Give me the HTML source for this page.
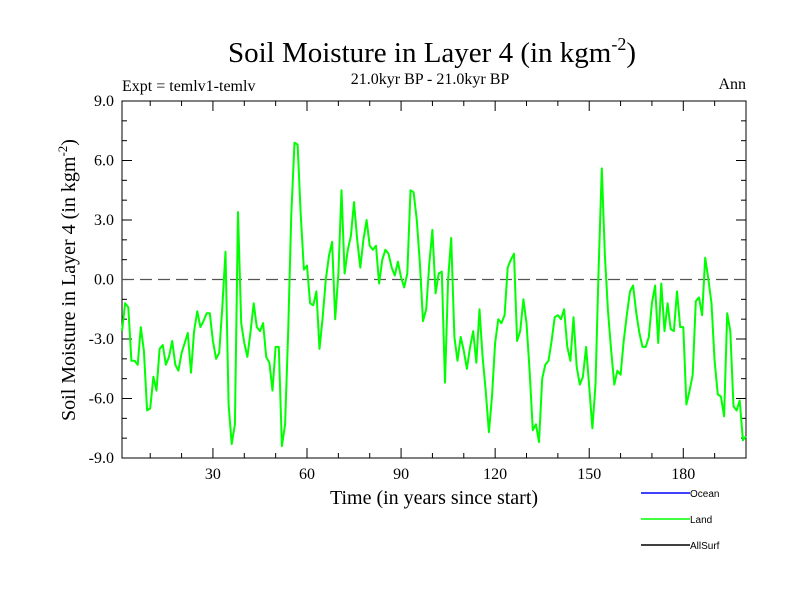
<!DOCTYPE html>
<html><head><meta charset="utf-8"><style>
body{margin:0;background:#fff}
svg text{font-family:"Liberation Serif",serif}
</style></head><body>
<svg id="chart" width="800" height="600" viewBox="0 0 800 600" xmlns="http://www.w3.org/2000/svg">
<text x="432" y="62" font-size="29" text-anchor="middle">Soil Moisture in Layer 4 (in kgm<tspan font-size="18" dy="-12">-2</tspan><tspan dy="12">)</tspan></text>
<text x="122" y="91" font-size="16">Expt = temlv1-temlv</text>
<text x="430" y="84" font-size="16" text-anchor="middle">21.0kyr BP - 21.0kyr BP</text>
<text x="746" y="89" font-size="16" text-anchor="end">Ann</text>
<text transform="translate(75,280) rotate(-90)" font-size="20" text-anchor="middle">Soil Moisture in Layer 4 (in kgm<tspan font-size="13" dy="-8">-2</tspan><tspan dy="8">)</tspan></text>
<text x="434" y="504" font-size="20" text-anchor="middle">Time (in years since start)</text>
<g id="axes"></g>
<g id="series"></g>
<g id="legend"></g>
</svg>
<script>
const years=[];for(let i=1;i<=200;i++)years.push(i);
const landValues=[-2.6,-1.2,-1.4,-4.1,-4.1,-4.3,-2.4,-3.6,-6.6,-6.5,-4.9,-5.6,-3.5,-3.3,-4.3,-3.9,-3.1,-4.3,-4.6,-3.7,-3.2,-2.7,-4.7,-2.6,-1.6,-2.4,-2.1,-1.7,-1.7,-3.1,-4.0,-3.7,-1.4,1.4,-6.3,-8.3,-7.3,3.4,-2.2,-3.2,-3.9,-2.6,-1.2,-2.4,-2.6,-2.2,-3.9,-4.2,-5.6,-3.4,-3.4,-8.4,-7.3,-2.6,3.3,6.9,6.8,3.3,0.5,0.7,-1.2,-1.3,-0.6,-3.5,-1.9,0,1.2,1.9,-2.0,0.3,4.5,0.3,1.5,2.2,3.9,2.0,0.6,2.0,3.0,1.7,1.5,1.7,-0.2,1.0,1.5,1.3,0.6,0.2,0.9,0.1,-0.4,0.3,4.5,4.4,3.0,0.8,-2.1,-1.5,0.8,2.5,-0.7,0.3,0.4,-5.2,0,2.1,-2.9,-4.1,-2.9,-3.6,-4.5,-3.4,-2.6,-4.2,-1.5,-3.9,-5.6,-7.7,-5.9,-3.2,-2.0,-2.2,-1.8,0.6,1.0,1.3,-3.1,-2.6,-1.0,-2.2,-4.6,-7.6,-7.3,-8.2,-5.0,-4.3,-4.1,-3.1,-1.9,-1.8,-2.0,-1.5,-3.4,-4.1,-1.9,-4.4,-5.3,-4.9,-3.4,-5.4,-7.5,-5.3,0.5,5.6,1.2,-1.6,-3.6,-5.3,-4.6,-4.8,-3.1,-1.8,-0.6,-0.3,-1.7,-2.7,-3.4,-3.4,-2.9,-1.2,-0.3,-3.2,-0.2,-2.6,-1.2,-2.5,-2.6,-0.6,-2.4,-2.4,-6.3,-5.6,-4.8,-1.1,-0.9,-1.8,1.1,0,-1.2,-4.1,-5.8,-5.9,-6.9,-1.7,-2.6,-6.4,-6.6,-6.1,-8.1,-7.9];
const yTickValues=[-9,-6,-3,0,3,6,9];
const yTickLabels=["-9.0","-6.0","-3.0","0.0","3.0","6.0","9.0"];
const xTickValues=[30,60,90,120,150,180];
const legendLabels=["Ocean","Land","AllSurf"];
const legendColors=["#0000ff","#00ff00","#000000"];
const NS="http://www.w3.org/2000/svg";
const L=122,R=746,T=101,B=458;
const xs=v=>L+(v-1)*(R-L)/199;
const ys=v=>T+(9-v)*(B-T)/18;
function mk(tag,attrs,parent){const e=document.createElementNS(NS,tag);for(const k in attrs)e.setAttribute(k,attrs[k]);parent.appendChild(e);return e;}
const ax=document.getElementById('axes');
const frame=mk('rect',{x:L,y:T,width:R-L,height:B-T,fill:'none',stroke:'#000','stroke-width':1},ax);


for(let v=-9;v<=9;v++){const major=v%3===0;const len=major?10:5;const y=ys(v);
 const t1=mk('line',{x1:L,x2:L+len,y1:y,y2:y,stroke:'#000'},ax);
 
 
 const t2=mk('line',{x1:R,x2:R-len,y1:y,y2:y,stroke:'#000'},ax);
 
 }
yTickValues.forEach((v,i)=>{const t=mk('text',{x:L-8,y:ys(v)+5,'font-size':16,'text-anchor':'end'},ax);t.textContent=yTickLabels[i];
 
 });
for(let v=10;v<=200;v+=10){const major=v%30===0;const len=major?10:5;const x=xs(v);
 const t1=mk('line',{x1:x,x2:x,y1:B,y2:B-len,stroke:'#000'},ax);
 
 
 const t2=mk('line',{x1:x,x2:x,y1:T,y2:T+len,stroke:'#000'},ax);
 
 }
xTickValues.forEach(v=>{const t=mk('text',{x:xs(v),y:B+21,'font-size':16,'text-anchor':'middle'},ax);t.textContent=v;
 
 });
const zl=mk('line',{x1:L,x2:R,y1:ys(0),y2:ys(0),stroke:'#555','stroke-dasharray':'12,6','stroke-width':1.3},ax);


const pts=landValues.map((v,i)=>xs(years[i]).toFixed(1)+','+ys(v).toFixed(1)).join(' ');
const pl=mk('polyline',{points:pts,fill:'none',stroke:'#00ff00','stroke-width':2,'stroke-linejoin':'round'},document.getElementById('series'));


const lg=document.getElementById('legend');
legendLabels.forEach((lab,i)=>{const y=493+i*26;
 const ln=mk('line',{x1:641,x2:690,y1:y,y2:y,stroke:legendColors[i],'stroke-width':1.5},lg);
 
 
 const t=mk('text',{x:690,y:y+4,'font-size':10},lg);t.textContent=lab;
 t.setAttribute('style','font-family:"Liberation Sans",sans-serif');
 
 });
</script>
</body></html>
